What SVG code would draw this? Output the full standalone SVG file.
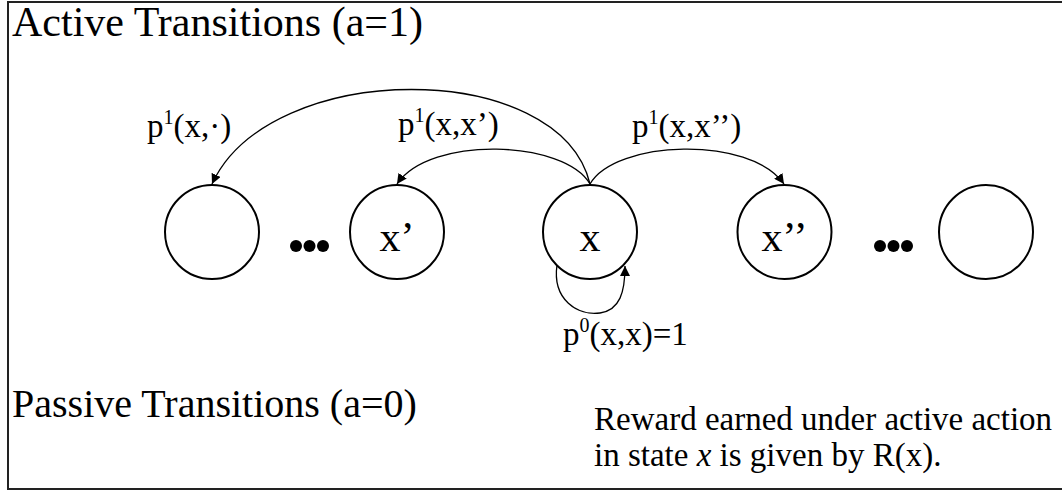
<svg xmlns="http://www.w3.org/2000/svg" width="1062" height="491" viewBox="0 0 1062 491">
<style>
text{font-family:"Liberation Serif","Times New Roman",serif;fill:#000}
.big{font-size:42px}
.big2{font-size:40px}
.lbl{font-size:33px}
.node{font-size:42px}
.note{font-size:33px}
circle.st{fill:#fff;stroke:#000;stroke-width:2}
.dot{fill:#000}
.edge{fill:none;stroke:#000;stroke-width:1.3}
</style>
<defs>
<marker id="ah" viewBox="0 0 10 10" refX="10" refY="5" markerWidth="10" markerHeight="10" markerUnits="userSpaceOnUse" orient="auto">
<path d="M0,0 L10,5 L0,10 Z" fill="#000"/>
</marker>
</defs>
<rect x="0" y="0" width="1062" height="491" fill="#fff"/>
<rect x="8" y="2" width="1070" height="487" fill="none" stroke="#222" stroke-width="2"/>
<text class="big" x="12" y="36">Active Transitions (a=1)</text>
<text class="big2" x="12" y="417">Passive Transitions (a=0)</text>
<text class="note" x="594" y="430">Reward earned under active action</text>
<text class="note" x="594" y="466">in state <tspan font-style="italic">x</tspan> is given by R(x).</text>
<g id="n1"><circle class="st" cx="212" cy="232" r="47"/></g>
<g id="dots1"><circle class="dot" cx="296" cy="246" r="6"/><circle class="dot" cx="309.5" cy="246" r="6"/><circle class="dot" cx="323" cy="246" r="6"/></g>
<g id="n2"><circle class="st" cx="397" cy="232" r="47"/><text class="node" x="397" y="251" text-anchor="middle">x’</text></g>
<g id="n3"><circle class="st" cx="590" cy="232" r="47"/><text class="node" x="590" y="251" text-anchor="middle">x</text></g>
<g id="n4"><circle class="st" cx="784.5" cy="232" r="47"/><text class="node" x="784.5" y="251" text-anchor="middle">x’’</text></g>
<g id="dots2"><circle class="dot" cx="880" cy="246" r="6"/><circle class="dot" cx="893.5" cy="246" r="6"/><circle class="dot" cx="907" cy="246" r="6"/></g>
<g id="n5"><circle class="st" cx="986" cy="232" r="47"/></g>
<g id="connectors">
<path class="edge" marker-end="url(#ah)" d="M590,184 C560,58 270,58 212,184"/>
<path class="edge" marker-end="url(#ah)" d="M590,184 C565,140 430,135 397,184"/>
<path class="edge" marker-end="url(#ah)" d="M590,184 C615,140 750,135 784,184"/>
<path class="edge" marker-end="url(#ah)" d="M557,265 C552,300 578,316 600,313 C620,310 625,292 625,266"/>
</g>
<text class="lbl" x="147" y="137">p<tspan font-size="20" dy="-13">1</tspan><tspan dy="13">(x,·)</tspan></text>
<text class="lbl" x="398" y="135">p<tspan font-size="20" dy="-13">1</tspan><tspan dy="13">(x,x’)</tspan></text>
<text class="lbl" x="632" y="137">p<tspan font-size="20" dy="-13">1</tspan><tspan dy="13">(x,x’’)</tspan></text>
<text class="lbl" x="563" y="345">p<tspan font-size="20" dy="-13">0</tspan><tspan dy="13">(x,x)=1</tspan></text>
</svg>
